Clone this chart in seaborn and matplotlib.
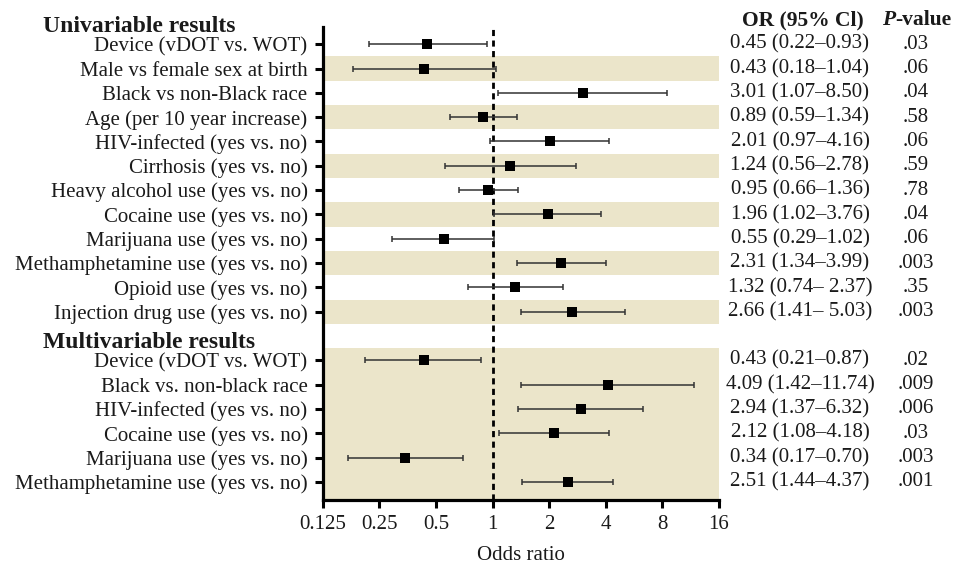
import numpy as np
import pandas as pd
import matplotlib
matplotlib.use("Agg")
import matplotlib.pyplot as plt
import seaborn as sns

# ------------------------------
# Data
# ------------------------------
uni_labels = ["Device (vDOT vs. WOT)", "Male vs female sex at birth", "Black vs non-Black race",
              "Age (per 10 year increase)", "HIV-infected (yes vs. no)", "Cirrhosis (yes vs. no)",
              "Heavy alcohol use (yes vs. no)", "Cocaine use (yes vs. no)", "Marijuana use (yes vs. no)",
              "Methamphetamine use (yes vs. no)", "Opioid use (yes vs. no)", "Injection drug use (yes vs. no)"]
uni_or = [0.45, 0.43, 3.01, 0.89, 2.01, 1.24, 0.95, 1.96, 0.55, 2.31, 1.32, 2.66]
uni_lo = [0.22, 0.18, 1.07, 0.59, 0.97, 0.56, 0.66, 1.02, 0.29, 1.34, 0.74, 1.41]
uni_hi = [0.93, 1.04, 8.50, 1.34, 4.16, 2.78, 1.36, 3.76, 1.02, 3.99, 2.37, 5.03]
uni_ci_text = ["0.45 (0.22–0.93)", "0.43 (0.18–1.04)", "3.01 (1.07–8.50)", "0.89 (0.59–1.34)",
               "2.01 (0.97–4.16)", "1.24 (0.56–2.78)", "0.95 (0.66–1.36)", "1.96 (1.02–3.76)",
               "0.55 (0.29–1.02)", "2.31 (1.34–3.99)", "1.32 (0.74– 2.37)", "2.66 (1.41– 5.03)"]
uni_p = [".03", ".06", ".04", ".58", ".06", ".59", ".78", ".04", ".06", ".003", ".35", ".003"]

multi_labels = ["Device (vDOT vs. WOT)", "Black vs. non-black race", "HIV-infected (yes vs. no)",
                "Cocaine use (yes vs. no)", "Marijuana use (yes vs. no)", "Methamphetamine use (yes vs. no)"]
multi_or = [0.43, 4.09, 2.94, 2.12, 0.34, 2.51]
multi_lo = [0.21, 1.42, 1.37, 1.08, 0.17, 1.44]
multi_hi = [0.87, 11.74, 6.32, 4.18, 0.70, 4.37]
multi_ci_text = ["0.43 (0.21–0.87)", "4.09 (1.42–11.74)", "2.94 (1.37–6.32)", "2.12 (1.08–4.18)",
                 "0.34 (0.17–0.70)", "2.51 (1.44–4.37)"]
multi_p = [".02", ".009", ".006", ".03", ".003", ".001"]

x_ticks = [0.125, 0.25, 0.5, 1, 2, 4, 8, 16]
x_ticklabels = ["0.125", "0.25", "0.5", "1", "2", "4", "8", "16"]

# ------------------------------
# Build table (one blank row between the two blocks)
# ------------------------------
n_uni = len(uni_labels)
uni_pos = np.arange(n_uni)
multi_pos = np.arange(len(multi_labels)) + n_uni + 1

df = pd.DataFrame({
    "label": uni_labels + multi_labels,
    "OR": uni_or + multi_or,
    "lo": uni_lo + multi_lo,
    "hi": uni_hi + multi_hi,
    "ci_text": uni_ci_text + multi_ci_text,
    "p": uni_p + multi_p,
    "pos": np.concatenate([uni_pos, multi_pos]),
})

# ------------------------------
# Style
# ------------------------------
sns.set_theme(style="ticks")
plt.rcParams["font.family"] = ["Liberation Serif", "DejaVu Serif"]
txt_color = "#1a1a1a"
shade = "#EBE5CA"
fs = 15

fig, ax = plt.subplots(figsize=(9.58, 5.67), dpi=100)
fig.subplots_adjust(left=0.337, right=0.7505, top=0.952, bottom=0.118)

# alternating bands for univariable block, one solid band for the multivariable block
for p in uni_pos[1::2]:
    ax.axhspan(p - 0.5, p + 0.5, color=shade, lw=0, zorder=0)
ax.axhspan(multi_pos[0] - 0.5, multi_pos[-1] + 0.75, color=shade, lw=0, zorder=0)

ax.axvline(1, color="black", lw=2.0, ls=(0, (2.2, 1.6)), zorder=2)

ax.errorbar(df["OR"], df["pos"],
            xerr=[df["OR"] - df["lo"], df["hi"] - df["OR"]],
            fmt="none", ecolor="#333333", elinewidth=1.1, capsize=2.5, capthick=1.1, zorder=3)
sns.scatterplot(data=df, x="OR", y="pos", marker="s", s=48, color="black",
                edgecolor="black", linewidth=0, ax=ax, zorder=4)

ax.set_xscale("log", base=2)
ax.set_xlim(0.125, 16)
ax.set_xticks(x_ticks)
ax.set_xticklabels(x_ticklabels)
ax.minorticks_off()
ax.set_ylim(multi_pos[-1] + 0.75, -0.7)
ax.set_yticks(df["pos"])
ax.set_yticklabels(df["label"])
ax.set_xlabel("Odds ratio", fontsize=fs, color=txt_color, labelpad=9)
ax.set_ylabel("")

sns.despine(ax=ax)
for side in ["left", "bottom"]:
    ax.spines[side].set_linewidth(2.3)
    ax.spines[side].set_color("black")
ax.tick_params(axis="both", length=5.5, width=2.2, color="black", labelsize=fs, labelcolor=txt_color)
ax.tick_params(axis="y", pad=5.5)
ax.tick_params(axis="x", pad=5)

# section headers
fig.text(43 / 958, 1 - 32 / 567, "Univariable results", fontsize=17, fontweight="bold",
         color=txt_color, ha="left", va="baseline")
fig.text(43 / 958, 1 - 348 / 567, "Multivariable results", fontsize=17, fontweight="bold",
         color=txt_color, ha="left", va="baseline")

# right-hand columns
tr = ax.get_yaxis_transform()
for _, r in df.iterrows():
    ax.text(1.2045, r["pos"], r["ci_text"], transform=tr, ha="center", va="center",
            fontsize=fs, color=txt_color, clip_on=False)
    ax.text(1.4975, r["pos"], r["p"], transform=tr, ha="center", va="center",
            fontsize=fs, color=txt_color, clip_on=False)

fig.text(803 / 958, 1 - 25 / 567, "OR (95% Cl)", fontsize=15.5, fontweight="bold",
         color=txt_color, ha="center", va="baseline")
fig.text(895 / 958, 1 - 25 / 567, "P", fontsize=15.5, fontweight="bold", fontstyle="italic",
         color=txt_color, ha="right", va="baseline")
fig.text(895 / 958, 1 - 25 / 567, "-value", fontsize=15.5, fontweight="bold",
         color=txt_color, ha="left", va="baseline")

fig.savefig("out.png", dpi=100)
plt.close(fig)
